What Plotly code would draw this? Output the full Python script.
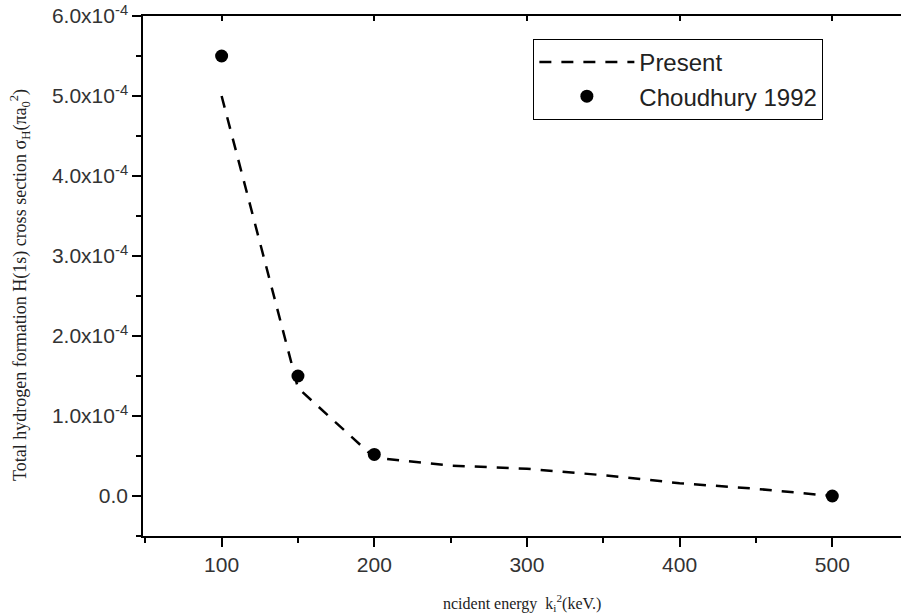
import plotly.graph_objects as go

# Present calculation (dashed line)
present_energy = [100, 150, 200, 250, 300, 350, 400, 450, 500]
present_sigma = [5.0e-4, 1.35e-4, 0.48e-4, 0.38e-4, 0.34e-4, 0.26e-4, 0.16e-4, 0.09e-4, 0.0]

# Choudhury 1992 (filled circles)
chou_energy = [100, 150, 200, 500]
chou_sigma = [5.5e-4, 1.5e-4, 0.52e-4, 0.0]

# Axis ticks
x_tick_values = [100, 200, 300, 400, 500]
y_tick_values = [0.0, 1e-4, 2e-4, 3e-4, 4e-4, 5e-4, 6e-4]
y_tick_labels = ["0.0", "1.0x10<sup>-4</sup>", "2.0x10<sup>-4</sup>", "3.0x10<sup>-4</sup>",
                 "4.0x10<sup>-4</sup>", "5.0x10<sup>-4</sup>", "6.0x10<sup>-4</sup>"]

fig = go.Figure()
fig.add_trace(go.Scatter(
    x=present_energy, y=present_sigma, mode="lines", name="Present",
    line=dict(color="black", width=2.5, dash="12px,10px"),
))
fig.add_trace(go.Scatter(
    x=chou_energy, y=chou_sigma, mode="markers", name="Choudhury 1992",
    marker=dict(color="black", size=13, symbol="circle"),
))
# invisible trace on the top axis so the top ticks render
fig.add_trace(go.Scatter(x=chou_energy, y=chou_sigma, xaxis="x2", mode="none",
                         showlegend=False, hoverinfo="skip"))

tick_font = dict(family="Liberation Sans, Arial", size=21, color="#333333")

fig.update_layout(
    width=901, height=616,
    margin=dict(l=143, r=0, t=16, b=80, autoexpand=False),
    paper_bgcolor="white", plot_bgcolor="white",
    showlegend=True,
    legend=dict(
        x=0.515, y=0.956, xanchor="left", yanchor="top",
        bgcolor="white", bordercolor="black", borderwidth=1,
        font=dict(family="Liberation Sans, Arial", size=24, color="#222222"),
        itemwidth=95, tracegroupgap=0,
    ),
    xaxis=dict(
        range=[48.5, 545], tickmode="array", tickvals=x_tick_values, automargin=False,
        ticks="outside", ticklen=9, tickwidth=1.5, tickcolor="black",
        showline=True, linecolor="black", linewidth=1.5, mirror=False,
        showgrid=False, zeroline=False, tickfont=tick_font,
        minor=dict(tickmode="linear", tick0=0, dtick=50, ticks="outside",
                   ticklen=5, tickwidth=1.5, tickcolor="black"),
    ),
    xaxis2=dict(
        overlaying="x", side="top", matches="x", tickmode="array", tickvals=x_tick_values,
        ticks="inside", ticklen=5, tickwidth=1.5, tickcolor="black", automargin=False,
        showline=True, linecolor="black", linewidth=1.5,
        showticklabels=False, showgrid=False, zeroline=False,
    ),
    yaxis=dict(
        range=[-0.5e-4, 6.0e-4], tickmode="array", tickvals=y_tick_values, ticktext=y_tick_labels,
        automargin=False,
        ticks="outside", ticklen=9, tickwidth=1.5, tickcolor="black",
        showline=True, linecolor="black", linewidth=1.5,
        showgrid=False, zeroline=False, tickfont=tick_font,
        minor=dict(tickmode="linear", tick0=0, dtick=0.5e-4, ticks="outside",
                   ticklen=5, tickwidth=1.5, tickcolor="black"),
    ),
    annotations=[
        dict(text="Total hydrogen formation H(1s) cross section σ<sub>H</sub>(πa<sub>0</sub><sup>2</sup>)",
             xref="paper", yref="paper", x=-0.162, y=0.483, textangle=-90,
             showarrow=False, xanchor="center", yanchor="middle",
             font=dict(family="Liberation Serif, Times New Roman", size=18, color="#222222")),
        dict(text="ncident energy  k<sub>i</sub><sup>2</sup>(keV.)",
             xref="paper", yref="paper", x=0.5, y=-0.129,
             showarrow=False, xanchor="center", yanchor="middle",
             font=dict(family="Liberation Serif, Times New Roman", size=16, color="#222222")),
    ],
)

fig.write_html("out.html",
               config={"displayModeBar": False},
               post_script="document.body.style.margin='0';document.body.style.overflow='hidden';")
